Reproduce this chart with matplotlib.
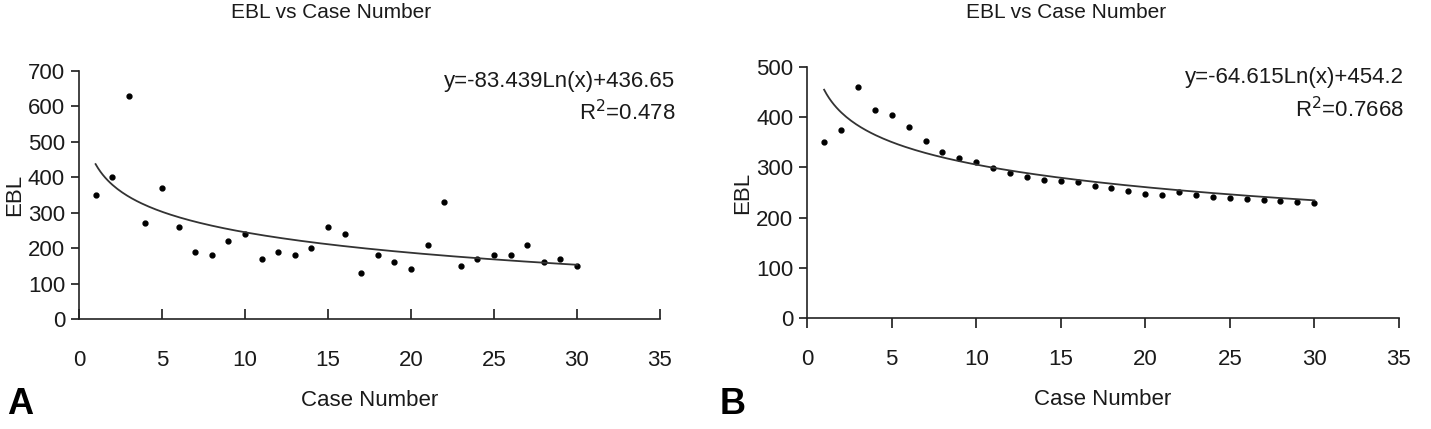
import matplotlib
matplotlib.use('Agg')
import matplotlib.pyplot as plt
import numpy as np

plt.rcParams['font.family'] = ['Liberation Sans', 'DejaVu Sans']

# case numbers and estimated blood loss
cases = list(range(1, 31))
ebl_a = [350, 400, 630, 270, 370, 260, 190, 180, 220, 240,
         170, 190, 180, 200, 260, 240, 130, 180, 160, 140,
         210, 330, 150, 170, 180, 180, 210, 160, 170, 150]
ebl_b = [350, 375, 460, 413, 404, 380, 353, 331, 319, 310,
         299, 289, 281, 275, 273, 271, 263, 258, 252, 247,
         245, 250, 245, 242, 240, 238, 236, 234, 232, 229]

# log trendline coefficients as printed on the chart
fit_a = (-83.439, 436.65)
fit_b = (-64.615, 454.2)
eq_a = ['y=-83.439Ln(x)+436.65', 'R$^2$=0.478']
eq_b = ['y=-64.615Ln(x)+454.2', 'R$^2$=0.7668']

xticks = [0, 5, 10, 15, 20, 25, 30, 35]
yticks_a = [0, 100, 200, 300, 400, 500, 600, 700]
yticks_b = [0, 100, 200, 300, 400, 500]

fig = plt.figure(figsize=(14.31, 4.29), dpi=100)
ax1 = fig.add_axes([0.0552, 0.2564, 0.406, 0.5788])
ax2 = fig.add_axes([0.5641, 0.258, 0.4134, 0.5866])

ink = '#1a1a1a'


def draw(ax, y, fit, eq, yticks, xtick_dir, eq_x):
    ax.plot(cases, y, 'o', color='black', markersize=3.5)
    xx = np.linspace(1, 30, 200)
    ax.plot(xx, fit[0] * np.log(xx) + fit[1], color='#333333', lw=1.3)
    ax.set_xlim(0, 35)
    ax.set_ylim(0, yticks[-1])
    ax.set_xticks(xticks)
    ax.set_yticks(yticks)
    ax.spines['top'].set_visible(False)
    ax.spines['right'].set_visible(False)
    for s in ['left', 'bottom']:
        ax.spines[s].set_linewidth(1.2)
        ax.spines[s].set_color('#222222')
    ax.tick_params(axis='y', direction='out', length=6, width=1.2, labelsize=16, pad=4, colors=ink)
    ax.tick_params(axis='x', direction=xtick_dir, length=7, width=1.2, labelsize=16,
                   pad=22 if xtick_dir == 'in' else 15, colors=ink)
    ax.set_xlabel('Case Number', fontsize=16, labelpad=14, color=ink)
    ax.set_ylabel('EBL', fontsize=16, labelpad=2, color=ink)
    ax.text(eq_x, 0.955, eq[0], transform=ax.transAxes, ha='right', va='center', fontsize=16, color=ink)
    ax.text(eq_x, 0.83, eq[1], transform=ax.transAxes, ha='right', va='center', fontsize=16, color=ink)


draw(ax1, ebl_a, fit_a, eq_a, yticks_a, 'in', 1.026)
draw(ax2, ebl_b, fit_b, eq_b, yticks_b, 'out', 1.008)

fig.text(331 / 1431, 1 - 13 / 429, 'EBL vs Case Number', fontsize=15, ha='center', va='center', color=ink)
fig.text(1066 / 1431, 1 - 13 / 429, 'EBL vs Case Number', fontsize=15, ha='center', va='center', color=ink)

fig.text(0.005, 1 - 405 / 429, 'A', fontsize=26, fontweight='bold', va='center')
fig.text(0.503, 1 - 405 / 429, 'B', fontsize=26, fontweight='bold', va='center')

fig.savefig('out.png', dpi=100, facecolor='white')
